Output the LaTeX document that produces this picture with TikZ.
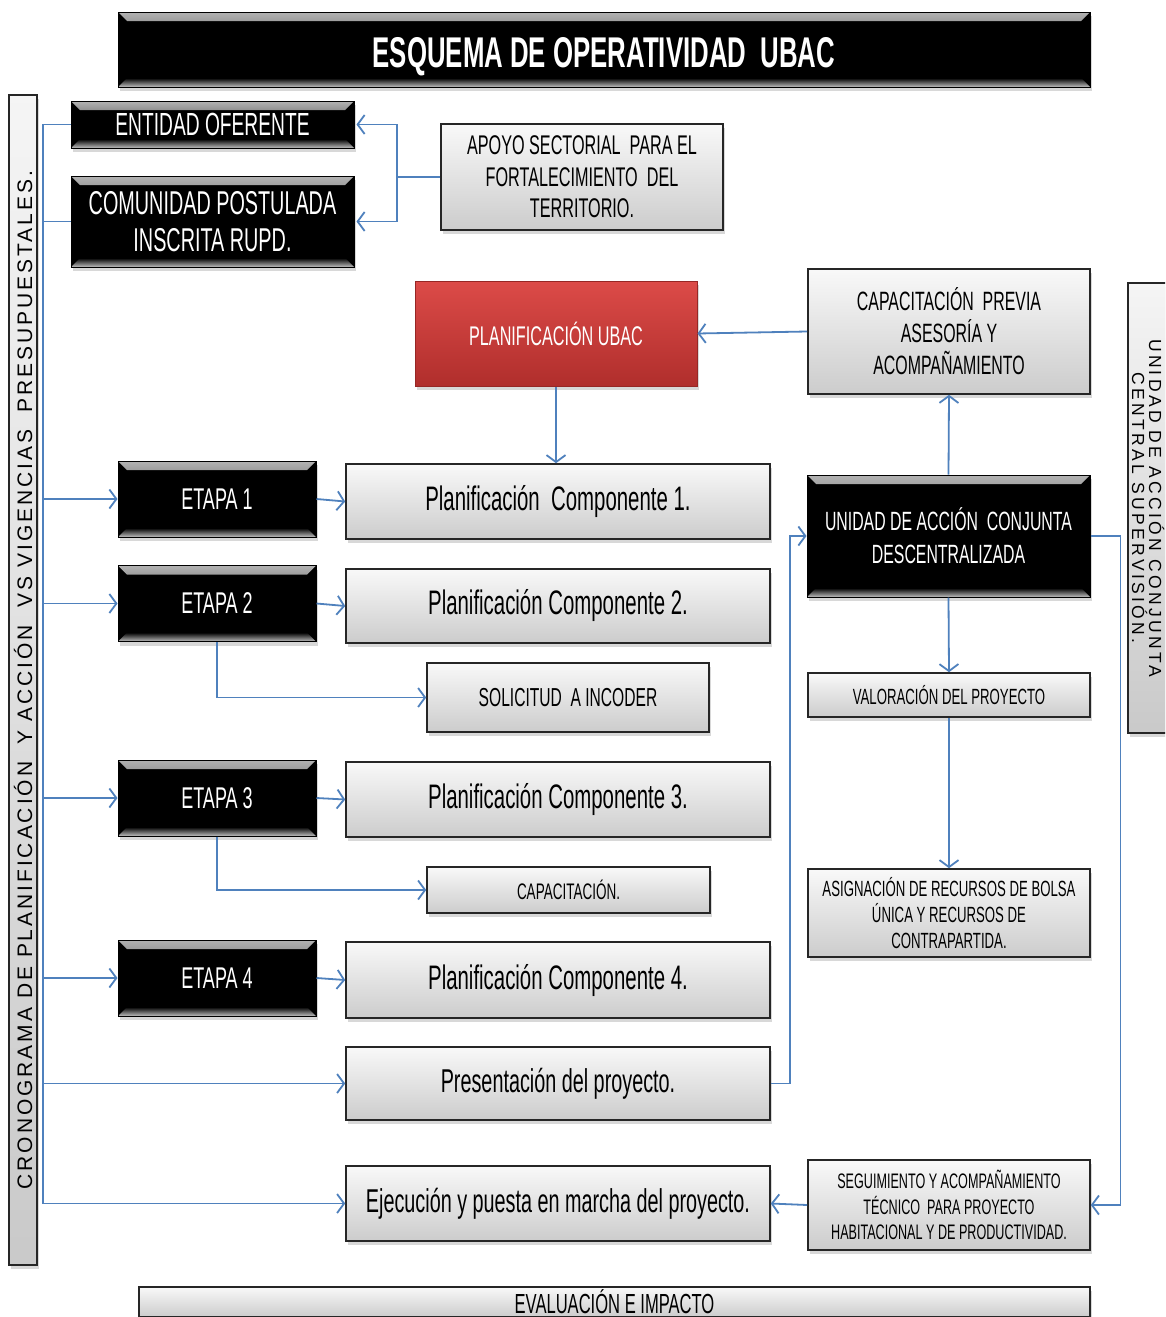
\documentclass[tikz,border=0pt]{standalone}
\usepackage{fontspec}
\setmainfont{Liberation Sans}
\newfontfamily\nar[FakeStretch=0.6]{Liberation Sans}
\newfontfamily\lbarfont[LetterSpace=14]{Liberation Sans}
\newfontfamily\rbarfont[LetterSpace=19]{Liberation Sans}
\usetikzlibrary{arrows.meta,shadows,calc}
\definecolor{conncol}{HTML}{4F81BD}
\definecolor{redtop}{HTML}{DC4B48}
\definecolor{redbot}{HTML}{B02E2C}
\newcommand{\fs}[2]{\fontsize{#1}{#2}\selectfont}
\tikzset{
  base/.style={rectangle, inner sep=0pt, align=center},
  shad/.style={drop shadow={shadow xshift=1.5pt, shadow yshift=-4pt, opacity=0.3}},
  graybox/.style={base, draw=black!85, line width=1.6pt, top color=gray!5, bottom color=gray!40, shad, text=black},
  barbox/.style={base, draw=black!85, line width=1.6pt, top color=gray!8, bottom color=gray!42, shad, text=black},
  blackbox/.style={base, draw=black, line width=1pt, fill=black, text=white, shad,
    path picture={
      \fill[top color=gray!60, bottom color=black]
        (path picture bounding box.north west)
        -- (path picture bounding box.north east)
        -- ([shift={(-9pt,-9pt)}]path picture bounding box.north east)
        -- ([shift={(9pt,-9pt)}]path picture bounding box.north west) -- cycle;
      \fill[top color=black, bottom color=gray!50]
        (path picture bounding box.south west)
        -- (path picture bounding box.south east)
        -- ([shift={(-9pt,9pt)}]path picture bounding box.south east)
        -- ([shift={(9pt,9pt)}]path picture bounding box.south west) -- cycle;
    }},
  redbox/.style={base, draw=redbot!85!black, line width=1pt, top color=redtop, bottom color=redbot, text=white, shad},
  conn/.style={draw=conncol, line width=1.8pt},
  arr/.style={conn, -{Straight Barb[length=7pt,width=19pt,line width=1.8pt]}}
}
\begin{document}
\begin{tikzpicture}[x=1pt,y=-1pt]
\useasboundingbox (0,0) rectangle (1165,1317);
\fill[white] (0,0) rectangle (1165,1317);
\clip (0,0) rectangle (1165,1317);

% title
\node[blackbox, minimum width=972pt, minimum height=75pt, font={\nar\bfseries\fs{43}{46}}] (title) at (604,49.5) {\raisebox{-17.5pt}[0pt][0pt]{ESQUEMA DE OPERATIVIDAD~ UBAC}};

% side bars
\node[barbox, rotate=90, minimum width=1170pt, minimum height=28pt, font={\lbarfont\fs{21}{24}}] (cron) at (23,680) {CRONOGRAMA DE PLANIFICACIÓN~ Y ACCIÓN~ VS VIGENCIAS~ PRESUPUESTALES.};
\node[barbox, rotate=-90, minimum width=450pt, minimum height=40pt, font={\rbarfont\fs{17.5}{17}}] (ucs) at (1148,508) {UNIDAD DE ACCIÓN CONJUNTA\\CENTRAL SUPERVISIÓN.};

% top-left
\node[blackbox, minimum width=283pt, minimum height=47pt, font={\nar\fs{32}{36}}] (entidad) at (212.5,124.5) {ENTIDAD OFERENTE};
\node[blackbox, minimum width=283pt, minimum height=91pt, font={\nar\fs{33}{37}}] (comunidad) at (212.5,221.5) {COMUNIDAD POSTULADA\\INSCRITA RUPD.};
\node[graybox, minimum width=282pt, minimum height=106pt, font={\nar\fs{27}{31.5}}] (apoyo) at (582,177) {APOYO SECTORIAL~ PARA EL\\FORTALECIMIENTO~ DEL\\TERRITORIO.};

% planning
\node[redbox, minimum width=282pt, minimum height=105pt, font={\nar\fs{27}{30}}] (planubac) at (556,333.5) {PLANIFICACIÓN UBAC};
\node[graybox, minimum width=282pt, minimum height=125pt, font={\nar\fs{26.5}{32}}] (capprev) at (949,331.5) {CAPACITACIÓN~ PREVIA\\ASESORÍA Y\\ACOMPAÑAMIENTO};

% etapas
\node[blackbox, minimum width=198pt, minimum height=76pt, font={\nar\fs{30}{34}}] (etapa1) at (217,499) {ETAPA 1};
\node[blackbox, minimum width=198pt, minimum height=76pt, font={\nar\fs{30}{34}}] (etapa2) at (217,603.5) {ETAPA 2};
\node[blackbox, minimum width=198pt, minimum height=76pt, font={\nar\fs{30}{34}}] (etapa3) at (217,798) {ETAPA 3};
\node[blackbox, minimum width=198pt, minimum height=76pt, font={\nar\fs{30}{34}}] (etapa4) at (217,978) {ETAPA 4};

\node[graybox, minimum width=424pt, minimum height=75pt, font={\nar\fs{34}{38}}] (comp1) at (558,501.5) {Planificación~ Componente 1.};
\node[graybox, minimum width=424pt, minimum height=74pt, font={\nar\fs{34}{38}}] (comp2) at (558,606) {Planificación Componente 2.};
\node[graybox, minimum width=424pt, minimum height=75pt, font={\nar\fs{34}{38}}] (comp3) at (558,799.5) {Planificación Componente 3.};
\node[graybox, minimum width=424pt, minimum height=76pt, font={\nar\fs{34}{38}}] (comp4) at (558,980) {Planificación Componente 4.};

\node[graybox, minimum width=282pt, minimum height=69pt, font={\nar\fs{26}{30}}] (solicitud) at (568,697.5) {SOLICITUD~ A INCODER};
\node[graybox, minimum width=283pt, minimum height=46pt, font={\nar\fs{22.5}{26}}] (capac) at (568.5,890) {CAPACITACIÓN.};

\node[graybox, minimum width=424pt, minimum height=73pt, font={\nar\fs{33}{37}}] (present) at (558,1083.5) {Presentación del proyecto.};
\node[graybox, minimum width=424pt, minimum height=75pt, font={\nar\fs{33}{37}}] (ejec) at (558,1203.5) {Ejecución y puesta en marcha del proyecto.};

% right column
\node[blackbox, minimum width=283pt, minimum height=122pt, font={\nar\fs{26.4}{33}}] (unidad) at (948.5,536) {UNIDAD DE ACCIÓN~ CONJUNTA\\DESCENTRALIZADA};
\node[graybox, minimum width=282pt, minimum height=44pt, font={\nar\fs{22}{26}}] (valor) at (949,695) {VALORACIÓN DEL PROYECTO};
\node[graybox, minimum width=282pt, minimum height=88pt, font={\nar\fs{22}{26}}] (asign) at (949,913) {ASIGNACIÓN DE RECURSOS DE BOLSA\\ÚNICA Y RECURSOS DE\\CONTRAPARTIDA.};
\node[graybox, minimum width=282pt, minimum height=90pt, font={\nar\fs{21}{25.5}}] (segui) at (949,1205) {SEGUIMIENTO Y ACOMPAÑAMIENTO\\TÉCNICO~ PARA PROYECTO\\HABITACIONAL Y DE PRODUCTIVIDAD.};

% bottom
\node[graybox, minimum width=951pt, minimum height=30pt, font={\nar\fs{27.6}{30}}] (evalua) at (614.5,1302) {EVALUACIÓN E IMPACTO};

% connectors
\coordinate (trunk) at (43,0);
\draw[conn] (entidad.west) -- (entidad.west -| trunk) -- (ejec.west -| trunk);
\draw[conn] (comunidad.west) -- (comunidad.west -| trunk);
\foreach \n in {etapa1,etapa2,etapa3,etapa4,present,ejec}
  \draw[arr] (\n.west -| trunk) -- (\n.west);

\draw[arr, shorten >=2pt] (apoyo.west) -- ++(-43,0) |- (entidad.east);
\draw[arr, shorten >=2pt] (apoyo.west) -- ++(-43,0) |- (comunidad.east);

\draw[arr] (capprev.west) -- (planubac.east);
\draw[arr] (planubac.south) -- (planubac.south |- comp1.north);

\draw[arr] (etapa1.east) -- (comp1.west);
\draw[arr] (etapa2.east) -- (comp2.west);
\draw[arr] (etapa3.east) -- (comp3.west);
\draw[arr] (etapa4.east) -- (comp4.west);

\draw[arr] (etapa2.south) |- (solicitud.west);
\draw[arr] (etapa3.south) |- (capac.west);

\draw[arr] (present.east) -- ++(19,0) |- (unidad.west);
\draw[arr] (unidad.north) -- (capprev.south);
\draw[arr] (unidad.south) -- (valor.north);
\draw[arr] (valor.south) -- (asign.north);
\draw[arr] (unidad.east) -- ++(30,0) |- (segui.east);
\draw[arr] (segui.west) -- (ejec.east);
\end{tikzpicture}
\end{document}
